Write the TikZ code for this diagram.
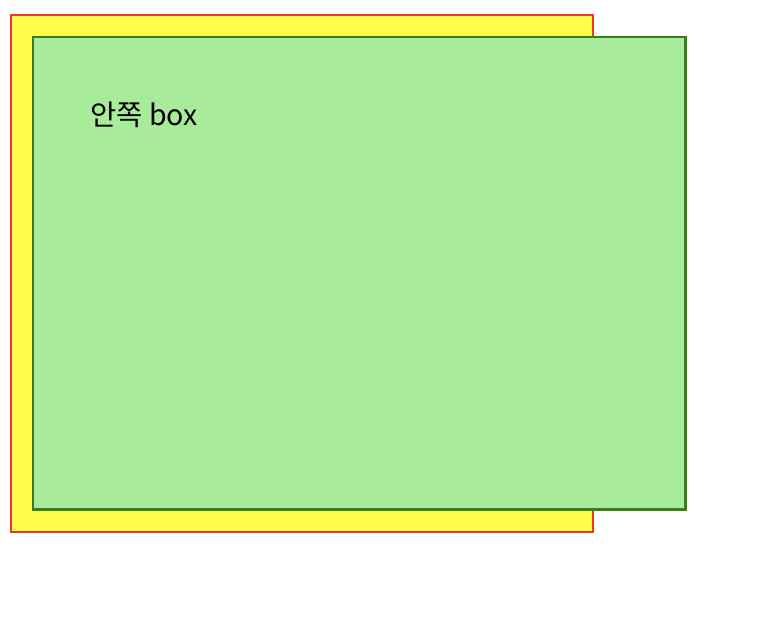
\documentclass[tikz,border=0pt]{standalone}
\usepackage{fontspec}
\newfontfamily\krfont{Noto Sans CJK KR}
\usepackage{tikz}
\usetikzlibrary{positioning}
\definecolor{boxred}{RGB}{236,56,36}
\definecolor{boxyellow}{RGB}{255,253,76}
\definecolor{boxgreen}{RGB}{168,235,154}
\definecolor{boxdark}{RGB}{56,126,29}
\begin{document}
\begin{tikzpicture}[x=0.75pt, y=-0.75pt,
        outer box/.style = {draw=boxred, fill=boxyellow, line width=2.1pt, inner sep=0, outer sep=0, minimum width=436.5pt, minimum height=387.75pt},
        inner box/.style = {draw=boxdark, fill=boxgreen, line width=2.1pt, inner sep=0, outer sep=0, minimum width=489.4pt, minimum height=354.4pt}]
        \useasboundingbox (0,0) rectangle (772,626);
        \node[outer box]                                     (outer)    at (302,273.5) {};
        \node[inner box]                                     (inner)    at (359.25,273.25) {};
        \node[anchor=base west, inner sep=0, font=\krfont\fontsize{21.4}{25}\selectfont] (label) at (90,125.5) {안쪽 box};
\end{tikzpicture}
\end{document}
